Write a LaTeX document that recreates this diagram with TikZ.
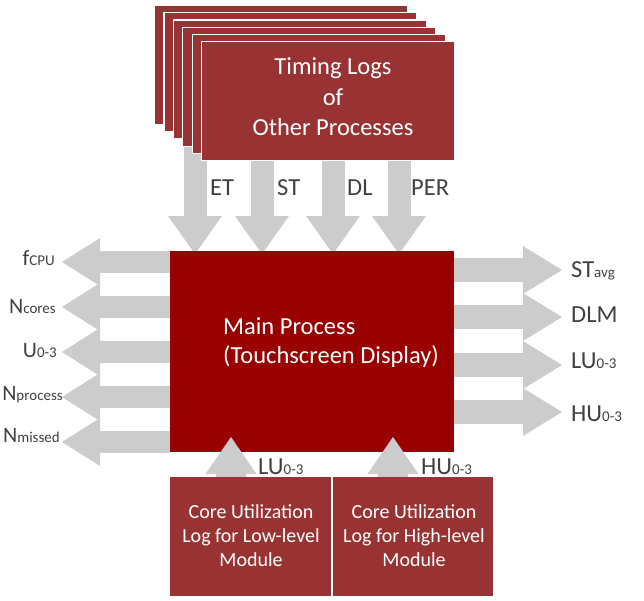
\documentclass[tikz,border=0pt]{standalone}
\usepackage{fontspec}
\setmainfont{Carlito}
\usetikzlibrary{arrows.meta}
\pgfdeclarelayer{background}
\pgfsetlayers{background,main}
\definecolor{logred}{HTML}{993333}
\definecolor{mainred}{HTML}{990000}
\definecolor{arrowgrey}{HTML}{CCCCCC}
\definecolor{txtgrey}{HTML}{404040}
\newcommand\lsub[1]{{\fontsize{15}{15}\selectfont #1}}
\begin{document}
\begin{tikzpicture}[x=1pt,y=-1pt,
  logbox/.style={fill=logred,draw=white,line width=1.2pt,anchor=north west,
    minimum width=253pt,minimum height=119pt,inner sep=0pt},
  mainbox/.style={fill=mainred,anchor=north west,minimum width=284pt,minimum height=201pt,inner sep=0pt},
  cubox/.style={fill=logred,anchor=north west,minimum width=161pt,minimum height=119pt,inner sep=0pt},
  wtext/.style={text=white,inner sep=0pt,align=center},
  lbl/.style={text=txtgrey,inner sep=0pt,font=\fontsize{24.5}{24.5}\selectfont},
  lbll/.style={text=txtgrey,inner sep=0pt,font=\fontsize{22}{22}\selectfont,anchor=base east},
  garrowv/.style={draw=arrowgrey,line width=23pt,-{Triangle[length=38pt,width=54pt,line width=0pt]}},
  garrowl/.style={draw=arrowgrey,line width=22pt,-{Triangle[length=38pt,width=48pt,line width=0pt]}},
  garrowr/.style={draw=arrowgrey,line width=24pt,-{Triangle[length=39pt,width=48pt,line width=0pt]}},
  garrowu/.style={draw=arrowgrey,line width=30pt,-{Triangle[length=37pt,width=51pt,line width=0pt]}},
]
\useasboundingbox (0,0) rectangle (644,600);

% stack of timing logs
\node[logbox] (s1) at (154,5) {};
\node[logbox] (s2) at (163.4,12.2) {};
\node[logbox] (s3) at (172.8,19.4) {};
\node[logbox] (s4) at (182.2,26.6) {};
\node[logbox] (s5) at (191.6,33.8) {};
\node[logbox] (s6) at (201,41) {};
\node[wtext,anchor=north,font=\fontsize{24.5}{30.5}\selectfont] (tl) at (333,57.8)
  {Timing Logs\\of\\Other Processes};

% main process
\node[mainbox] (main) at (170,251) {};
\node[wtext,align=left,anchor=north west,font=\fontsize{24.5}{29}\selectfont] (mt) at (223,317.8)
  {Main Process\\(Touchscreen Display)};

% core utilization boxes
\node[cubox] (cl) at (170,477) {};
\node[cubox,minimum width=160pt] (ch) at (333,477) {};
\node[wtext,anchor=north,font=\fontsize{20}{24}\selectfont] (clt) at (251,504.8)
  {Core Utilization\\Log for Low-level\\Module};
\node[wtext,anchor=north,font=\fontsize{20}{24}\selectfont] (cht) at (414,504.8)
  {Core Utilization\\Log for High-level\\Module};

% down arrows (behind stack)
\begin{pgfonlayer}{background}
\foreach \n/\x in {d1/195,d2/262,d3/333,d4/399}{
  \coordinate (\n) at (\x,140);
  \draw[garrowv] (\n) -- ([yshift=-3pt]main.north -| \n);
}
\end{pgfonlayer}
\node[lbl,anchor=base west] (lET) at (210,195) {ET};
\node[lbl,anchor=base west] (lST) at (277,195) {ST};
\node[lbl,anchor=base west] (lDL) at (347,195) {DL};
\node[lbl,anchor=base west] (lPER) at (411,195) {PER};

% left arrows
\foreach \n/\y in {o1/262,o2/307,o3/352,o4/397,o5/442}{
  \coordinate (\n) at (62,\y);
  \draw[garrowl] (main.west |- \n) -- (\n);
}
\node[lbll] (lf) at (55,265) {f\lsub{CPU}};
\node[lbll] (lnc) at (56,313) {N\lsub{cores}};
\node[lbll] (lu) at (57,357) {U\lsub{0-3}};
\node[lbll] (lnp) at (63,400) {N\lsub{process}};
\node[lbll] (lnm) at (60,442) {N\lsub{missed}};

% right arrows
\foreach \n/\y in {r1/270,r2/317,r3/365,r4/412}{
  \coordinate (\n) at (562,\y);
  \draw[garrowr] (main.east |- \n) -- (\n);
}
\node[lbl,anchor=base west] (lsta) at (571,277) {ST\lsub{avg}};
\node[lbl,anchor=base west] (ldlm) at (571,322) {DLM};
\node[lbl,anchor=base west] (llu) at (571,368) {LU\lsub{0-3}};
\node[lbl,anchor=base west] (lhu) at (571,421) {HU\lsub{0-3}};

% up arrows
\coordinate (u1) at (231,437);
\coordinate (u2) at (393,437);
\draw[garrowu] (cl.north -| u1) -- (u1);
\draw[garrowu] (ch.north -| u2) -- (u2);
\node[lbl,anchor=base west] (blu) at (258,474) {LU\lsub{0-3}};
\node[lbl,anchor=base west] (bhu) at (421,474) {HU\lsub{0-3}};
\end{tikzpicture}
\end{document}
